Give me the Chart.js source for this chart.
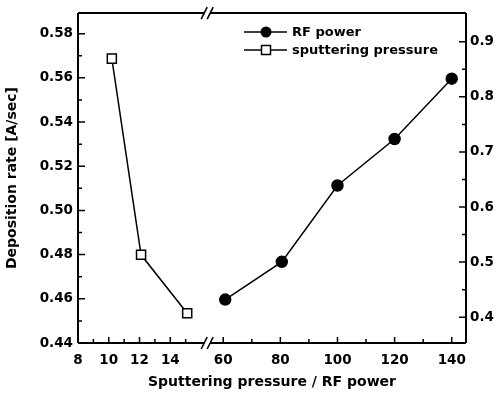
<!DOCTYPE html>
<html>
<head>
<meta charset="utf-8">
<script src="https://cdn.jsdelivr.net/npm/chart.js@4.4.1/dist/chart.umd.min.js"></script>
<style>body{margin:0;background:#fff}</style>
</head>
<body>
<canvas id="depChart" width="502" height="395"></canvas>
<script>
// sputtering pressure series, left axis
var pressure = [10.2, 12.1, 15.1];
var pressureRate = [0.5687, 0.4799, 0.4535];
// RF power series, right axis
var power = [60.7, 80.5, 100, 120, 140];
var powerRate = [0.432, 0.5005, 0.639, 0.7235, 0.833];

var pressureTicks = [8, 10, 12, 14];
var pressureMinor = [9, 11, 13, 15];
var powerTicks = [60, 80, 100, 120, 140];
var powerMinor = [70, 90, 110, 130];
var leftTicks = [0.44, 0.46, 0.48, 0.50, 0.52, 0.54, 0.56, 0.58];
var leftMinor = [0.45, 0.47, 0.49, 0.51, 0.53, 0.55, 0.57];
var rightTicks = [0.4, 0.5, 0.6, 0.7, 0.8, 0.9];
var rightMinor = [0.45, 0.55, 0.65, 0.75, 0.85];

// broken x axis: two linear pieces joined on one scale
function xu(v) {
  if (v < 30) return (v - 8) * 15.4;
  return 129.4 + (v - 54.4) * 2.86;
}
var xMax = xu(145);

var font = "'DejaVu Sans', sans-serif";

var frame = {
  id: 'frame',
  afterDraw: function(chart) {
    var ctx = chart.ctx;
    var a = chart.chartArea;
    var sx = chart.scales.x, yl = chart.scales.yL, yr = chart.scales.yR;
    var bx = sx.getPixelForValue(xu(16.4));
    ctx.save();
    ctx.strokeStyle = '#000';
    ctx.lineWidth = 2;
    ctx.beginPath();
    ctx.moveTo(a.left, a.top); ctx.lineTo(a.left, a.bottom);
    ctx.moveTo(a.right, a.top); ctx.lineTo(a.right, a.bottom);
    [a.top, a.bottom].forEach(function(y) {
      ctx.moveTo(a.left, y); ctx.lineTo(bx - 3, y);
      ctx.moveTo(bx + 3, y); ctx.lineTo(a.right, y);
    });
    ctx.stroke();
    // break marks
    ctx.lineWidth = 1.6;
    ctx.beginPath();
    [a.top, a.bottom].forEach(function(y) {
      [-3, 3].forEach(function(d) {
        ctx.moveTo(bx + d - 3, y + 6); ctx.lineTo(bx + d + 3, y - 6);
      });
    });
    ctx.stroke();
    // inward ticks
    ctx.lineWidth = 1.5;
    ctx.beginPath();
    function xt(v, len) { var p = sx.getPixelForValue(xu(v)); ctx.moveTo(p, a.bottom); ctx.lineTo(p, a.bottom - len); }
    pressureTicks.forEach(function(v) { xt(v, 6); });
    pressureMinor.forEach(function(v) { xt(v, 4); });
    powerTicks.forEach(function(v) { xt(v, 6); });
    powerMinor.forEach(function(v) { xt(v, 4); });
    function ylt(v, len) { var p = yl.getPixelForValue(v); ctx.moveTo(a.left, p); ctx.lineTo(a.left + len, p); }
    leftTicks.forEach(function(v) { ylt(v, 7); });
    leftMinor.forEach(function(v) { ylt(v, 4); });
    function yrt(v, len) { var p = yr.getPixelForValue(v); ctx.moveTo(a.right, p); ctx.lineTo(a.right - len, p); }
    rightTicks.forEach(function(v) { yrt(v, 7); });
    rightMinor.forEach(function(v) { yrt(v, 4); });
    ctx.stroke();

    // legend
    var rows = [
      {label: 'RF power', y: 32, style: 'circle'},
      {label: 'sputtering pressure', y: 50, style: 'rect'}
    ];
    ctx.font = 'bold 13px ' + font;
    ctx.textBaseline = 'middle';
    ctx.fillStyle = '#000';
    rows.forEach(function(r) {
      ctx.lineWidth = 1.5;
      ctx.beginPath();
      ctx.moveTo(244, r.y); ctx.lineTo(287, r.y);
      ctx.stroke();
      if (r.style === 'circle') {
        ctx.beginPath(); ctx.arc(266, r.y, 5.5, 0, Math.PI * 2); ctx.fill();
      } else {
        ctx.fillStyle = '#fff';
        ctx.fillRect(261.5, r.y - 4.5, 9, 9);
        ctx.strokeRect(261.5, r.y - 4.5, 9, 9);
        ctx.fillStyle = '#000';
      }
      ctx.fillText(r.label, 292, r.y + 1);
    });
    ctx.restore();
  }
};

var xLabels = {};
pressureTicks.forEach(function(v) { xLabels[xu(v).toFixed(2)] = String(v); });
powerTicks.forEach(function(v) { xLabels[xu(v).toFixed(2)] = String(v); });

var chart = new Chart(document.getElementById('depChart'), {
  type: 'scatter',
  data: {
    datasets: [{
      label: 'sputtering pressure',
      data: pressure.map(function(p, i) { return {x: xu(p), y: pressureRate[i]}; }),
      showLine: true,
      borderColor: '#000',
      borderWidth: 1.5,
      pointStyle: 'rect',
      pointRadius: 6.4,
      pointBackgroundColor: '#fff',
      pointBorderColor: '#000',
      pointBorderWidth: 1.5,
      xAxisID: 'x',
      yAxisID: 'yL'
    }, {
      label: 'RF power',
      data: power.map(function(p, i) { return {x: xu(p), y: powerRate[i]}; }),
      showLine: true,
      borderColor: '#000',
      borderWidth: 1.5,
      pointStyle: 'circle',
      pointRadius: 5.5,
      pointBackgroundColor: '#000',
      pointBorderColor: '#000',
      xAxisID: 'x',
      yAxisID: 'yR'
    }]
  },
  options: {
    responsive: false,
    animation: false,
    layout: {padding: {top: 10, left: 0, right: 0, bottom: 0}},
    plugins: {legend: {display: false}, tooltip: {enabled: false}},
    scales: {
      x: {
        type: 'linear',
        min: 0,
        max: xMax,
        border: {display: false},
        grid: {display: false, drawTicks: false},
        afterBuildTicks: function(s) {
          s.ticks = pressureTicks.concat(powerTicks).map(function(v) { return {value: xu(v)}; });
        },
        afterFit: function(s) { s.height = 52; },
        ticks: {
          autoSkip: false, maxRotation: 0, padding: 9,
          color: '#000',
          font: {family: font, size: 13.5, weight: 'bold'},
          callback: function(v) { return xLabels[Number(v).toFixed(2)] || ''; }
        },
        title: {
          display: true,
          text: 'Sputtering pressure / RF power',
          color: '#000',
          font: {family: font, size: 14, weight: 'bold'},
          padding: {top: 0, bottom: 4}
        }
      },
      yL: {
        position: 'left',
        min: 0.44,
        max: 0.5893,
        border: {display: false},
        grid: {display: false, drawTicks: false},
        afterBuildTicks: function(s) {
          s.ticks = leftTicks.map(function(v) { return {value: v}; });
        },
        afterFit: function(s) { s.width = 78; },
        ticks: {
          padding: 5, color: '#000',
          font: {family: font, size: 13.5, weight: 'bold'},
          callback: function(v) { return Number(v).toFixed(2); }
        },
        title: {
          display: true,
          text: 'Deposition rate [A/sec]',
          color: '#000',
          font: {family: font, size: 14, weight: 'bold'},
          padding: {top: 4, bottom: 0}
        }
      },
      yR: {
        position: 'right',
        min: 0.3532,
        max: 0.952,
        border: {display: false},
        grid: {display: false, drawTicks: false},
        afterBuildTicks: function(s) {
          s.ticks = rightTicks.map(function(v) { return {value: v}; });
        },
        afterFit: function(s) { s.width = 36; },
        ticks: {
          padding: 4, color: '#000',
          font: {family: font, size: 13.5, weight: 'bold'},
          callback: function(v) { return Number(v).toFixed(1); }
        }
      }
    }
  },
  plugins: [frame]
});
</script>
</body>
</html>
